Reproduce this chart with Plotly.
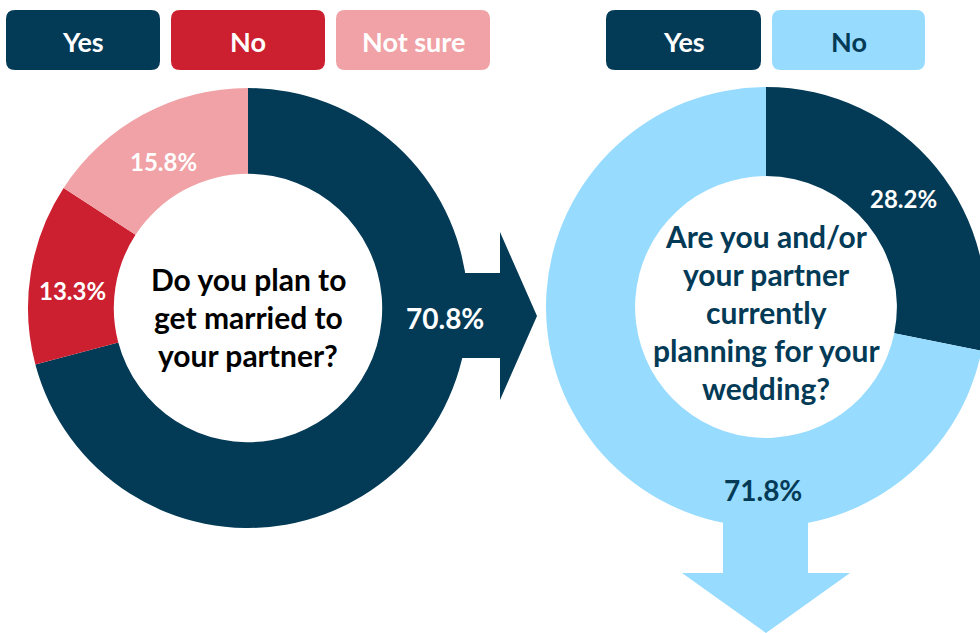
import plotly.graph_objects as go

# ---------------- data ----------------
q1_question = ["Do you plan to", "get married to", "your partner?"]
q1_labels = ["Yes", "No", "Not sure"]
q1_values = [70.8, 13.3, 15.8]

q2_question = ["Are you and/or", "your partner", "currently", "planning for your", "wedding?"]
q2_labels = ["Yes", "No"]
q2_values = [28.2, 71.8]

# ---------------- styles ----------------
NAVY = "#033A56"
RED = "#CC1F2F"
PINK = "#F0A2A6"
LBLUE = "#97DBFF"
FONT = "Lato"
W, H = 990, 633   # canvas slightly wider than the 980 px window: right donut is clipped

q1_colors = [NAVY, RED, PINK]
q2_colors = [NAVY, LBLUE]

def px_dom(x0, x1, y0, y1):
    return dict(x=[x0 / W, x1 / W], y=[1 - y1 / H, 1 - y0 / H])

fig = go.Figure()

# donuts
fig.add_trace(go.Pie(
    labels=q1_labels, values=q1_values, sort=False, direction="clockwise",
    rotation=0, hole=0.61, marker=dict(colors=q1_colors, line=dict(width=0)),
    textinfo="none", hoverinfo="label+percent", showlegend=False,
    domain=px_dom(28, 468, 88, 528),
))
fig.add_trace(go.Pie(
    labels=q2_labels, values=q2_values, sort=False, direction="clockwise",
    rotation=0, hole=0.595, marker=dict(colors=q2_colors, line=dict(width=0)),
    textinfo="none", hoverinfo="label+percent", showlegend=False,
    domain=px_dom(546, 986, 87, 527),
))

shapes = []

def rounded_rect(x0, y0, x1, y1, r, color):
    path = (f"M {x0+r},{y0} L {x1-r},{y0} Q {x1},{y0} {x1},{y0+r} "
            f"L {x1},{y1-r} Q {x1},{y1} {x1-r},{y1} L {x0+r},{y1} "
            f"Q {x0},{y1} {x0},{y1-r} L {x0},{y0+r} Q {x0},{y0} {x0+r},{y0} Z")
    return dict(type="path", path=path, xref="x", yref="y",
                fillcolor=color, line=dict(width=0), layer="above")

annotations = []

def txt(x, y, s, size, color):
    annotations.append(dict(x=x, y=y, xref="x", yref="y", text=f"<b>{s}</b>",
                            showarrow=False,
                            font=dict(family=FONT, size=size, color=color)))

# legend chips
left_boxes = [(6, 160), (171, 325), (336, 490)]
for (bx0, bx1), lab, col in zip(left_boxes, q1_labels, q1_colors):
    shapes.append(rounded_rect(bx0, 10, bx1, 70, 9, col))
    txt((bx0 + bx1) / 2, 41, lab, 27, "white")
right_boxes = [(606, 761), (772, 925)]
right_text_cols = ["white", NAVY]
for (bx0, bx1), lab, col, tc in zip(right_boxes, q2_labels, q2_colors, right_text_cols):
    shapes.append(rounded_rect(bx0, 10, bx1, 70, 9, col))
    txt((bx0 + bx1) / 2, 41, lab, 27, tc)

# arrows (behind the donuts)
right_arrow = "M 450,273 L 500,273 L 500,232 L 537,316 L 500,400 L 500,358 L 450,358 Z"
shapes.append(dict(type="path", path=right_arrow, xref="x", yref="y",
                   fillcolor=NAVY, line=dict(width=0), layer="below"))
down_arrow = "M 723,495 L 808,495 L 808,573 L 850,573 L 766,633 L 682,573 L 723,573 Z"
shapes.append(dict(type="path", path=down_arrow, xref="x", yref="y",
                   fillcolor=LBLUE, line=dict(width=0), layer="below"))

# percentage labels
q1_label_pos = [(445, 318), (72, 290), (163, 161)]
q1_label_size = [28, 24, 24]
for v, (lx, ly), s in zip(q1_values, q1_label_pos, q1_label_size):
    txt(lx, ly, f"{v:.1f}%", s, "white")
q2_label_pos = [(903, 198), (763, 490)]
q2_label_col = ["white", NAVY]
q2_label_size = [24, 28]
for v, (lx, ly), c, s in zip(q2_values, q2_label_pos, q2_label_col, q2_label_size):
    txt(lx, ly, f"{v:.1f}%", s, c)

# centre questions
for i, line in enumerate(q1_question):
    txt(248, 279 + 38 * i, line, 30, "black")
for i, line in enumerate(q2_question):
    txt(766, 236 + 38 * i, line, 30, NAVY)

fig.update_layout(
    width=W, height=H, margin=dict(l=0, r=0, t=0, b=0),
    paper_bgcolor="white", plot_bgcolor="white",
    xaxis=dict(range=[0, W], visible=False, fixedrange=True, domain=[0, 1]),
    yaxis=dict(range=[H, 0], visible=False, fixedrange=True, domain=[0, 1]),
    shapes=shapes, annotations=annotations, showlegend=False,
)

fig.write_html("out.html", config={"displayModeBar": False},
               post_script="document.body.style.margin='0';"
                           "document.body.style.overflow='hidden';")
